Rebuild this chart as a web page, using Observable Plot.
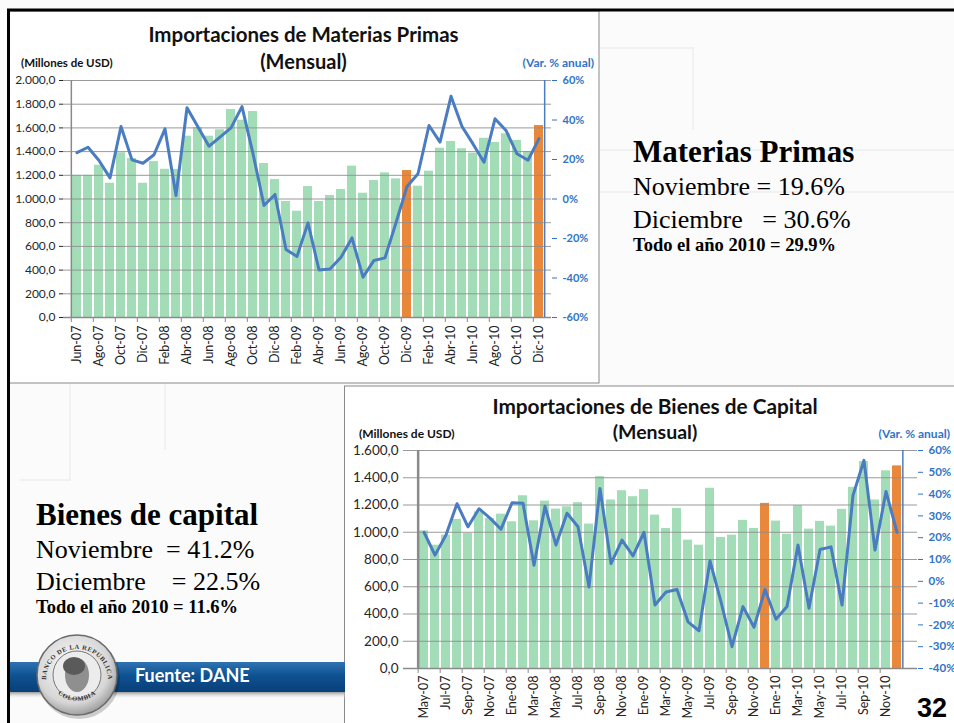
<!DOCTYPE html>
<html>
<head>
<meta charset="utf-8">
<script src="https://cdn.jsdelivr.net/npm/d3@7"></script>
<script src="https://cdn.jsdelivr.net/npm/@observablehq/plot@0.6"></script>
<style>
  html, body { margin: 0; padding: 0; }
  body { width: 954px; height: 723px; overflow: hidden; position: relative; background: #fff; font-family: Lato, sans-serif; }
  .abs { position: absolute; }
  #deco { position: absolute; left: 0; top: 0; }
  .ttl { font-family: Lato, sans-serif; font-weight: bold; fill: #111; }
  .sm { font-family: Lato, sans-serif; font-weight: bold; }
  .serif { font-family: "Liberation Serif", "Times New Roman", serif; fill: #000; white-space: pre; }
</style>
</head>
<body>
<svg id="deco" width="954" height="723">
  <defs>
    <linearGradient id="bannerGrad" x1="0" y1="0" x2="0" y2="1">
      <stop offset="0" stop-color="#2f73b2"/>
      <stop offset="0.45" stop-color="#0e5292"/>
      <stop offset="1" stop-color="#083f78"/>
    </linearGradient>
    <linearGradient id="shadowGrad" x1="0" y1="0" x2="0" y2="1">
      <stop offset="0" stop-color="#9a9a9a"/>
      <stop offset="1" stop-color="#fbfbfb" stop-opacity="0"/>
    </linearGradient>
    <radialGradient id="coinGrad" cx="45%" cy="40%" r="65%">
      <stop offset="0" stop-color="#ffffff"/>
      <stop offset="0.7" stop-color="#d6d6d6"/>
      <stop offset="1" stop-color="#8e8e8e"/>
    </radialGradient>
    <path id="arcTop" d="M 46 680 A 31 31 0 0 1 108 680"/>
    <path id="arcBot" d="M 54 690 A 30 30 0 0 0 100 690"/>
  </defs>
  <rect width="954" height="723" fill="#fbfbfb"/>
  <!-- faint template lines -->
  <g stroke="#f1f1f1" stroke-width="2" fill="none">
    <path d="M600 48 H693 V130"/>
    <path d="M600 150 H954"/>
    <path d="M600 192 H954"/>
    <path d="M70 383 V480 H20"/>
    <path d="M165 383 V450"/>
  </g>
  <!-- chart boxes -->
  <rect x="9" y="11" width="590" height="372" fill="#fff" stroke="#8a8a8a" stroke-width="1"/>
  <rect x="344.5" y="386" width="630" height="360" fill="#fff" stroke="#8a8a8a" stroke-width="1"/>
  <!-- black frame -->
  <line x1="7" y1="10" x2="954" y2="10" stroke="#000" stroke-width="3"/>
  <line x1="8.5" y1="9" x2="8.5" y2="723" stroke="#000" stroke-width="3"/>

  <!-- chart 1 titles -->
  <text class="ttl" x="303.5" y="42" text-anchor="middle" font-size="20.5">Importaciones de Materias Primas</text>
  <text class="ttl" x="303.5" y="68.5" text-anchor="middle" font-size="20">(Mensual)</text>
  <text class="sm" x="21" y="67" font-size="11.5" fill="#111">(Millones de USD)</text>
  <text class="sm" x="594" y="67" font-size="12" fill="#2f74c8" text-anchor="end">(Var. % anual)</text>

  <!-- chart 2 titles -->
  <text class="ttl" x="655" y="414" text-anchor="middle" font-size="20.8">Importaciones de Bienes de Capital</text>
  <text class="ttl" x="655" y="438.5" text-anchor="middle" font-size="19.5">(Mensual)</text>
  <text class="sm" x="359" y="437.5" font-size="12" fill="#111">(Millones de USD)</text>
  <text class="sm" x="950" y="438" font-size="12" fill="#2f74c8" text-anchor="end">(Var. % anual)</text>

  <!-- Materias primas text -->
  <text class="serif" x="633" y="162" font-size="31" font-weight="bold">Materias Primas</text>
  <text class="serif" x="633" y="195" font-size="26">Noviembre = 19.6%</text>
  <text class="serif" x="633" y="228" font-size="26">Diciembre   = 30.6%</text>
  <text class="serif" x="633" y="251" font-size="18.5" font-weight="bold">Todo el año 2010 = 29.9%</text>

  <!-- Bienes de capital text -->
  <text class="serif" x="36" y="525" font-size="31" font-weight="bold">Bienes de capital</text>
  <text class="serif" x="36" y="558" font-size="26">Noviembre  = 41.2%</text>
  <text class="serif" x="36" y="590" font-size="26">Diciembre    = 22.5%</text>
  <text class="serif" x="36" y="613" font-size="18.5" font-weight="bold">Todo el año 2010 = 11.6%</text>

  <!-- banner -->
  <rect x="10" y="692" width="335" height="7" fill="url(#shadowGrad)"/>
  <rect x="10" y="662" width="335" height="30" fill="url(#bannerGrad)"/>
  <text x="135" y="682" font-family="Lato, sans-serif" font-weight="bold" font-size="18" fill="#fff">Fuente: DANE</text>

  <!-- logo -->
  <circle cx="79" cy="678" r="41" fill="#000" opacity="0.18"/>
  <circle cx="77" cy="675" r="40" fill="url(#coinGrad)" stroke="#6a6a6a" stroke-width="1.5"/>
  <circle cx="77" cy="675" r="24" fill="#ececec" stroke="#777" stroke-width="1"/>
  <ellipse cx="77" cy="675" rx="12" ry="17" fill="#8f8f8f"/>
  <ellipse cx="74" cy="666" rx="11" ry="9" fill="#5a5a5a"/>
  <text font-family="Liberation Serif, serif" font-weight="bold" font-size="6.5" fill="#333" letter-spacing="0.6">
    <textPath href="#arcTop" startOffset="50%" text-anchor="middle">BANCO DE LA REPUBLICA</textPath>
  </text>
  <text font-family="Liberation Serif, serif" font-weight="bold" font-size="6.5" fill="#333" letter-spacing="0.6">
    <textPath href="#arcBot" startOffset="50%" text-anchor="middle">COLOMBIA</textPath>
  </text>

  <!-- page number -->
  <text x="917" y="717" font-family="Liberation Sans, Arial, sans-serif" font-weight="bold" font-size="27" fill="#000">32</text>
</svg>

<div id="chart1" class="abs" style="left:9px; top:11px;"></div>
<div id="chart2" class="abs" style="left:345px; top:386px;"></div>

<script>
// ---------- Importaciones de Materias Primas ----------
const mpMonths = ["Jun-07","Jul-07","Ago-07","Sep-07","Oct-07","Nov-07","Dic-07",
  "Ene-08","Feb-08","Mar-08","Abr-08","May-08","Jun-08","Jul-08","Ago-08","Sep-08","Oct-08","Nov-08","Dic-08",
  "Ene-09","Feb-09","Mar-09","Abr-09","May-09","Jun-09","Jul-09","Ago-09","Sep-09","Oct-09","Nov-09","Dic-09",
  "Ene-10","Feb-10","Mar-10","Abr-10","May-10","Jun-10","Jul-10","Ago-10","Sep-10","Oct-10","Nov-10","Dic-10"];
const mpValues = [1200,1200,1285,1133,1390,1342,1133,
  1316,1251,1250,1530,1603,1530,1584,1755,1665,1738,1300,1165,
  979,897,1105,979,1030,1080,1277,1049,1156,1221,1170,1240,
  1108,1235,1429,1485,1424,1387,1513,1477,1550,1494,1401,1620];
const mpVarPct = [23.5,26.2,19.5,10.7,36.7,19.8,18.1,
  22.4,35.5,1.8,46.2,36.4,26.7,31.3,36.0,46.8,23.0,-3.3,2.3,
  -25.6,-29.1,-12.1,-35.9,-35.4,-29.5,-19.7,-39.6,-31.1,-29.8,-12.0,6.3,
  12.8,37.2,28.8,52.0,36.7,27.9,18.6,40.6,34.7,22.9,19.6,30.6];
const mpTickLabels = ["Jun-07","Ago-07","Oct-07","Dic-07","Feb-08","Abr-08","Jun-08","Ago-08","Oct-08","Dic-08",
  "Feb-09","Abr-09","Jun-09","Ago-09","Oct-09","Dic-09","Feb-10","Abr-10","Jun-10","Ago-10","Oct-10","Dic-10"];
const mpHighlight = ["Dic-09","Dic-10"];

// ---------- Importaciones de Bienes de Capital ----------
const bkMonths = ["May-07","Jun-07","Jul-07","Ago-07","Sep-07","Oct-07","Nov-07","Dic-07",
  "Ene-08","Feb-08","Mar-08","Abr-08","May-08","Jun-08","Jul-08","Ago-08","Sep-08","Oct-08","Nov-08","Dic-08",
  "Ene-09","Feb-09","Mar-09","Abr-09","May-09","Jun-09","Jul-09","Ago-09","Sep-09","Oct-09","Nov-09","Dic-09",
  "Ene-10","Feb-10","Mar-10","Abr-10","May-10","Jun-10","Jul-10","Ago-10","Sep-10","Oct-10","Nov-10","Dic-10"];
const bkValues = [1010,905,979,1094,991,1150,1102,1133,
  1077,1268,1084,1229,1170,1187,1217,1060,1408,1237,1305,1261,
  1313,1126,1028,1175,942,905,1323,962,979,1087,1028,1212,
  1082,986,1195,1023,1080,1045,1168,1330,1519,1237,1451,1487];
const bkVarPct = [22.5,12.0,21.2,35.6,25.0,33.3,29.0,23.9,
  36.0,35.8,7.4,34.4,16.6,31.2,25.0,-2.6,42.6,8.1,18.9,11.7,
  22.5,-10.9,-4.9,-3.8,-18.6,-22.7,9.4,-9.4,-30.0,-11.6,-21.1,-3.8,
  -17.4,-11.6,16.6,-12.4,14.6,15.8,-10.9,39.4,55.5,14.3,41.2,22.5];
const bkTickLabels = ["May-07","Jul-07","Sep-07","Nov-07","Ene-08","Mar-08","May-08","Jul-08","Sep-08","Nov-08",
  "Ene-09","Mar-09","May-09","Jul-09","Sep-09","Nov-09","Ene-10","Mar-10","May-10","Jul-10","Sep-10","Nov-10"];
const bkHighlight = ["Dic-09","Dic-10"];

const esLocale = d3.formatLocale({decimal: ",", thousands: ".", grouping: [3], currency: ["$", ""]});
const fmtUSD = esLocale.format(",.1f");

const BLUE_TEXT = "#2f74c8";
const LINE_BLUE = "#4a7cc2";
const GREEN = "#a3ddb8";
const ORANGE = "#e9873a";
const GRID = "#8e8e8e";

function buildChart(cfg) {
  const {months, values, pct, tickLabels, highlight, width, height, mL, mR, mT, mB,
         yMax, yStep, pMin, pMax, pStep, leftFont, rightFont, xFont, leftTick, leftPad, rightPad, xPad, pad, axisW} = cfg;
  const pw = width - mL - mR, ph = height - mT - mB;
  const step = pw / months.length;
  const toY = p => (p - pMin) / (pMax - pMin) * yMax;
  const fromY = v => v / yMax * (pMax - pMin) + pMin;
  const rows = months.map((m, i) => ({month: m, value: values[i], pct: pct[i]}));
  const isHi = d => highlight.includes(d.month);
  const yTicks = d3.range(0, yMax + 1, yStep);
  const pTicks = d3.range(pMin, pMax + 1, pStep);
  const tickUnits = 5 / ph * yMax;
  return Plot.plot({
    width, height,
    marginLeft: mL, marginRight: mR, marginTop: mT, marginBottom: mB,
    style: {background: "transparent", fontFamily: "Lato, sans-serif", overflow: "visible"},
    x: {type: "band", domain: months, paddingInner: pad, paddingOuter: pad / 2, axis: null},
    y: {domain: [0, yMax], axis: null},
    marks: [
      Plot.barY(rows.filter(d => !isHi(d)), {x: "month", y: "value", fill: GREEN}),
      Plot.barY(rows.filter(isHi), {x: "month", y: "value", fill: ORANGE}),
      Plot.ruleY(yTicks.slice(1), {stroke: GRID, strokeWidth: 1, strokeOpacity: 0.9}),
      Plot.ruleY([0], {stroke: "#8a8a8a", strokeWidth: 1.5}),
      Plot.ruleX([months[0]], {y1: 0, y2: yMax, dx: -step / 2, stroke: "#8a8a8a", strokeWidth: axisW}),
      Plot.ruleX([months[months.length - 1]], {y1: 0, y2: yMax, dx: step / 2, stroke: LINE_BLUE, strokeWidth: 1.5}),
      Plot.ruleX(months.filter((m, i) => i % 2 === 0), {y1: 0, y2: -tickUnits, dx: -step / 2, stroke: "#8a8a8a"}),
      Plot.line(rows, {x: "month", y: d => toY(d.pct), stroke: LINE_BLUE, strokeWidth: 3, strokeLinejoin: "round", strokeLinecap: "round"}),
      Plot.axisY({ticks: yTicks, tickFormat: fmtUSD, anchor: "left", tickSize: leftTick, tickPadding: leftPad,
                  label: null, fontSize: leftFont, color: "#262626"}),
      Plot.axisY({ticks: pTicks.map(toY), tickFormat: v => Math.round(fromY(v)) + "%", anchor: "right",
                  tickSize: 5, tickPadding: rightPad, label: null, fontSize: rightFont, fontWeight: "bold", color: BLUE_TEXT}),
      Plot.axisX({ticks: tickLabels, tickRotate: -90, tickSize: 0, tickPadding: xPad, label: null, fontSize: xFont, color: "#222"})
    ]
  });
}

document.getElementById("chart1").append(buildChart({
  months: mpMonths, values: mpValues, pct: mpVarPct, tickLabels: mpTickLabels, highlight: mpHighlight,
  width: 590, height: 372, mL: 54, mR: 48, mT: 69, mB: 66,
  yMax: 2000, yStep: 200, pMin: -60, pMax: 60, pStep: 20,
  leftFont: 12, rightFont: 11, xFont: 12.5, leftTick: 4, leftPad: 4, rightPad: 6, xPad: 8, pad: 0.2, axisW: 1.5
}));

document.getElementById("chart2").append(buildChart({
  months: bkMonths, values: bkValues, pct: bkVarPct, tickLabels: bkTickLabels, highlight: bkHighlight,
  width: 609, height: 337, mL: 58, mR: 37, mT: 64, mB: 55,
  yMax: 1600, yStep: 200, pMin: -40, pMax: 60, pStep: 10,
  leftFont: 13.5, rightFont: 11.5, xFont: 12.5, leftTick: 0, leftPad: 5, rightPad: 6, xPad: 7, pad: 0.14, axisW: 2.5
}));
</script>
</body>
</html>
